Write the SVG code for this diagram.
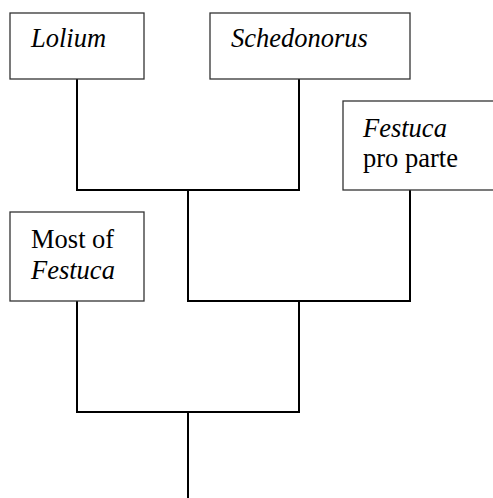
<svg xmlns="http://www.w3.org/2000/svg" width="493" height="498" viewBox="0 0 493 498">
<style>
.box{fill:#fff;stroke:#333;stroke-width:1.3}
.t{font-family:'Liberation Serif','Times New Roman','DejaVu Serif',serif;font-size:26.5px;fill:#000}
.i{font-style:italic}
.c{fill:none;stroke:#000;stroke-width:2;stroke-linecap:square}
</style>
<rect width="493" height="498" fill="#fff"/>
<g id="connectors">
<path class="c" d="M77,79V190H299V79"/>
<path class="c" d="M188,190V301H410V190"/>
<path class="c" d="M77,301V412H299V301"/>
<path class="c" d="M188,412V498"/>
</g>
<g id="lolium">
<rect class="box" x="10" y="13" width="134" height="66"/>
<text class="t i" x="31" y="47">Lolium</text>
</g>
<g id="schedonorus">
<rect class="box" x="210" y="13" width="200" height="66"/>
<text class="t i" x="231" y="47">Schedonorus</text>
</g>
<g id="festuca-pro-parte">
<rect class="box" x="343" y="101" width="152" height="89"/>
<text class="t" x="363" y="137"><tspan class="i">Festuca</tspan><tspan x="363" y="167">pro parte</tspan></text>
</g>
<g id="most-of-festuca">
<rect class="box" x="10" y="212" width="134" height="89"/>
<text class="t" x="31" y="248">Most of<tspan class="i" x="31" y="279">Festuca</tspan></text>
</g>
</svg>
